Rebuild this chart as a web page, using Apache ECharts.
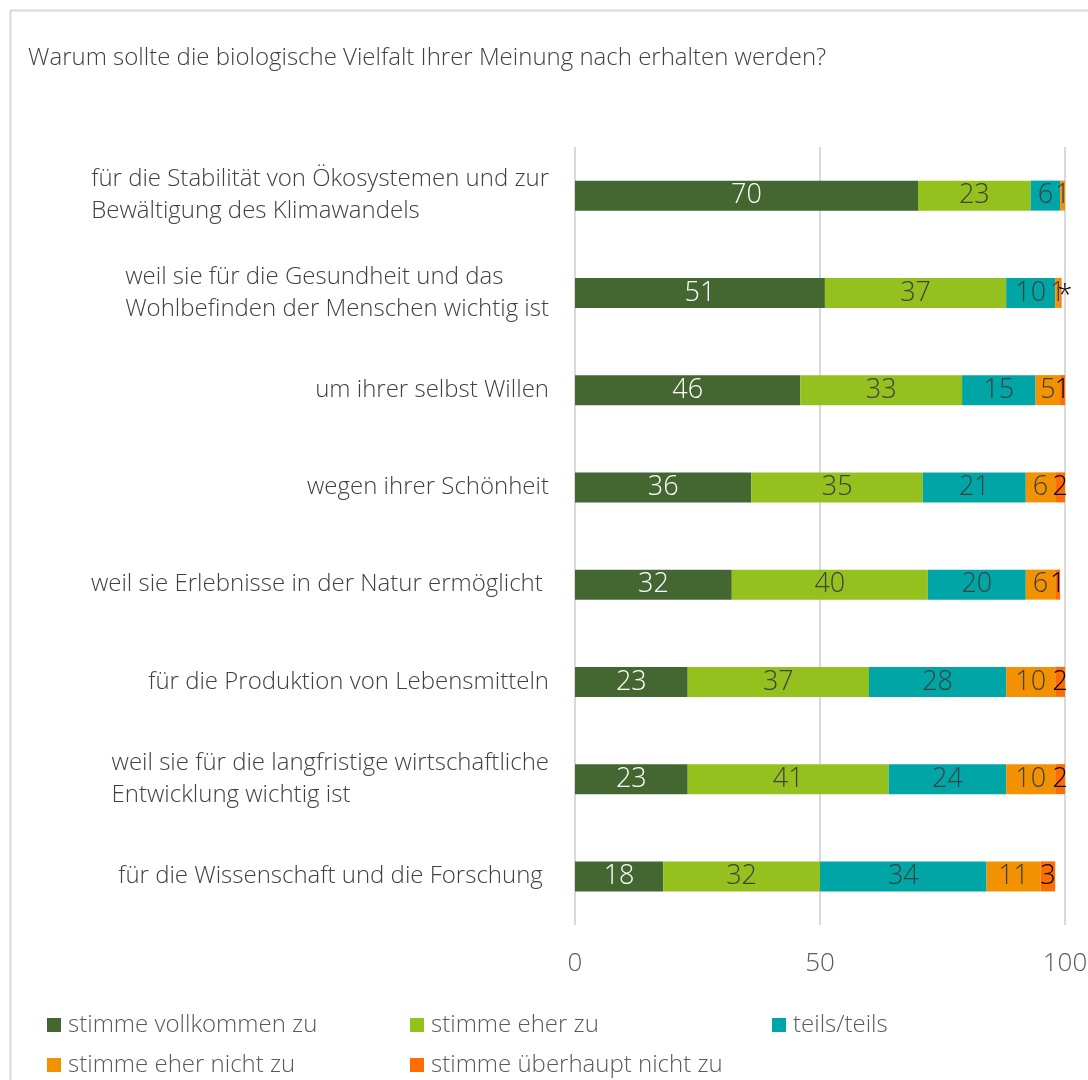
<!DOCTYPE html>
<html>
<head>
<meta charset="utf-8">
<script src="https://cdn.jsdelivr.net/npm/echarts@6/dist/echarts.min.js"></script>
<style>
html,body{margin:0;padding:0;background:#fff;}
#chart{width:1088px;height:1080px;}
</style>
</head>
<body>
<div id="chart"></div>
<script>
const title = 'Warum sollte die biologische Vielfalt Ihrer Meinung nach erhalten werden?';
const categories = [
  'für die Stabilität von Ökosystemen und zur\nBewältigung des Klimawandels',
  'weil sie für die Gesundheit und das\nWohlbefinden der Menschen wichtig ist',
  'um ihrer selbst Willen',
  'wegen ihrer Schönheit',
  'weil sie Erlebnisse in der Natur ermöglicht ',
  'für die Produktion von Lebensmitteln',
  'weil sie für die langfristige wirtschaftliche\nEntwicklung wichtig ist',
  'für die Wissenschaft und die Forschung '
];
const seriesNames = ['stimme vollkommen zu','stimme eher zu','teils/teils','stimme eher nicht zu','stimme überhaupt nicht zu'];
const vollkommen = [70, 51, 46, 36, 32, 23, 23, 18];
const eher       = [23, 37, 33, 35, 40, 37, 41, 32];
const teils      = [6, 10, 15, 21, 20, 28, 24, 34];
const eherNicht  = [1, 1, 5, 6, 6, 10, 10, 11];
const ueberhaupt = [0.4, 0.3, 1, 2, 1, 2, 2, 3];
const smallMarks = ['', '*', '', '', '', '', '', ''];
const xTicks = [0, 50, 100];

const colors = ['#446732', '#95c11f', '#00a6a6', '#f39200', '#ff6d00'];
const labelColors = ['#ffffff', '#404040', '#404040', '#404040', '#000000'];
const allData = [vollkommen, eher, teils, eherNicht, ueberhaupt];
const FONT = '"Open Sans", "Noto Sans", sans-serif';
const W = 300;

const chart = echarts.init(document.getElementById('chart'));

const series = allData.map((d, i) => ({
  name: seriesNames[i],
  type: 'bar',
  stack: 'total',
  barWidth: 30,
  data: d.map((v, j) => (v < 0.5 && smallMarks[j])
    ? { value: v, label: { position: 'right', distance: 0, offset: [-4, 3] } }
    : v),
  itemStyle: { color: colors[i] },
  label: {
    show: true,
    position: 'inside',
    fontFamily: FONT,
    fontWeight: W,
    fontSize: 27,
    color: labelColors[i],
    formatter: p => {
      if (p.value < 0.5) return smallMarks[p.dataIndex];
      return String(Math.round(p.value));
    }
  },
  emphasis: { disabled: true }
}));

const legendPos = [[42, 1008], [405, 1008], [767, 1008], [42, 1048], [405, 1048]];
const legends = seriesNames.map((n, i) => ({
  data: [n],
  left: legendPos[i][0],
  top: legendPos[i][1],
  icon: 'rect',
  itemWidth: 14,
  itemHeight: 14,
  itemGap: 0,
  selectedMode: false,
  textStyle: { fontFamily: FONT, fontWeight: W, fontSize: 24, color: '#595959', padding: [0, 0, 0, 2] }
}));

chart.setOption({
  animation: false,
  textStyle: { fontFamily: FONT },
  title: {
    text: title,
    left: 23,
    top: 41,
    textStyle: { fontFamily: FONT, fontSize: 24, fontWeight: W, color: '#404040' }
  },
  graphic: [{
    type: 'rect',
    shape: { x: 10.5, y: 10.5, width: 1200, height: 1200 },
    style: { fill: 'none', stroke: '#d9d9d9', lineWidth: 2 },
    silent: true
  }],
  legend: legends,
  grid: { left: 575, right: 23, top: 147, bottom: 155, containLabel: false, outerBoundsMode: 'none' },
  xAxis: {
    type: 'value',
    min: xTicks[0],
    max: xTicks[xTicks.length - 1],
    interval: 50,
    axisLine: { show: false },
    axisTick: { show: false },
    splitLine: { show: true, lineStyle: { color: '#d9d9d9', width: 2 } },
    axisLabel: { fontFamily: FONT, fontWeight: W, fontSize: 26, color: '#595959', margin: 26 }
  },
  yAxis: {
    type: 'category',
    inverse: true,
    data: categories,
    axisLine: { show: false },
    axisTick: { show: false },
    axisLabel: {
      margin: 26,
      align: 'right',
      fontFamily: FONT,
      fontWeight: W,
      fontSize: 24,
      color: '#404040',
      lineHeight: 32,
      formatter: v => v.split('\n').map(s => '{l|' + s + '}').join('\n'),
      rich: { l: { align: 'left', fontFamily: FONT, fontWeight: W, fontSize: 24, color: '#404040', lineHeight: 32 } }
    }
  },
  series: series
});
</script>
</body>
</html>
